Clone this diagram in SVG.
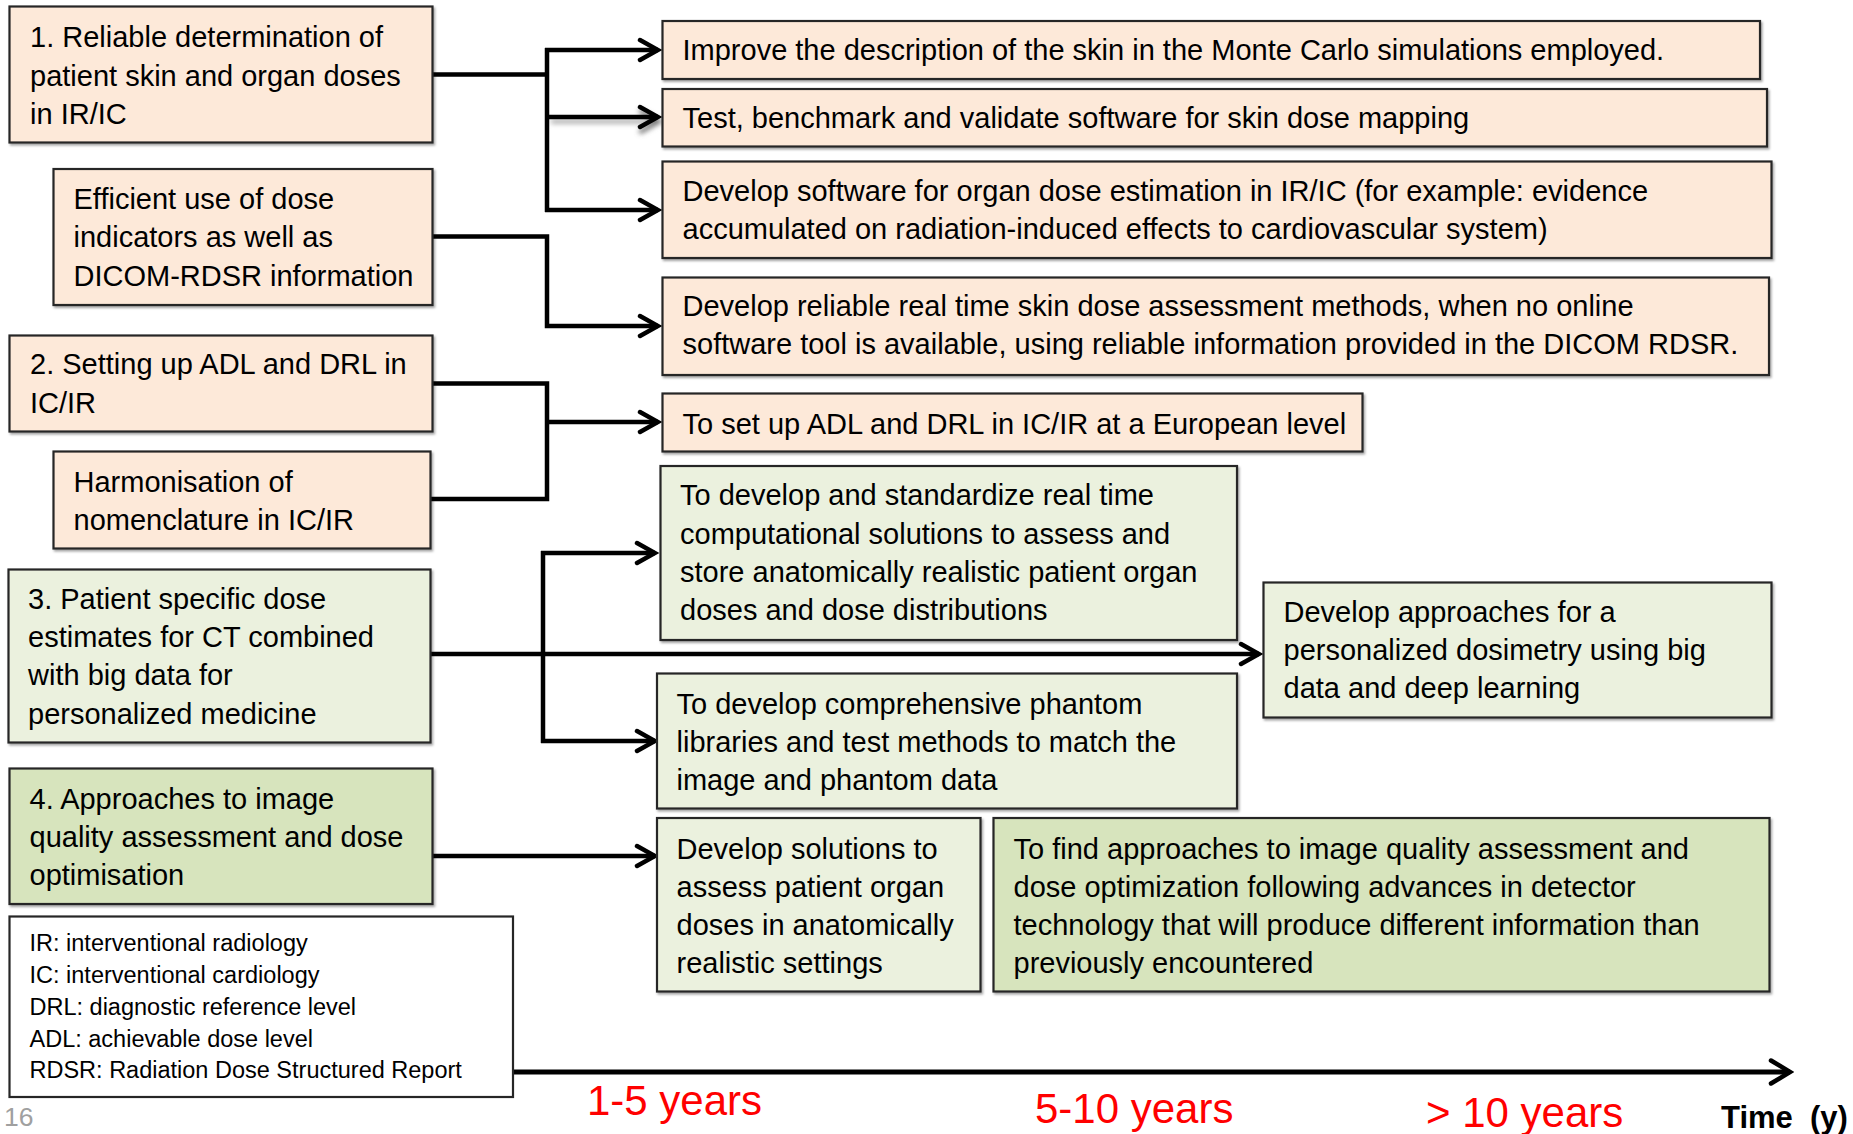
<svg xmlns="http://www.w3.org/2000/svg" width="1853" height="1134" viewBox="0 0 1853 1134">
<defs>
<style>
.box{stroke:#262626;stroke-width:2.2;filter:url(#sh)}
.peach{fill:#FDE9D9}
.lg{fill:#EBF1DE}
.dg{fill:#D7E4BD}
.t{font-family:"Liberation Sans",Arial,sans-serif;font-size:29px;fill:#000}
.leg{font-family:"Liberation Sans",Arial,sans-serif;font-size:23.5px;fill:#000}
.yr{font-family:"Liberation Sans",Arial,sans-serif;font-size:42px;fill:#FF0000}
.c{fill:none;stroke:#000;stroke-width:4.5}
.ca{fill:none;stroke:#000;stroke-width:4.5;marker-end:url(#ah)}
</style>
<filter id="sh" x="-5%" y="-5%" width="110%" height="115%">
<feDropShadow dx="1.5" dy="2" stdDeviation="1.2" flood-color="#000" flood-opacity="0.35"/>
</filter>
<filter id="blur" filterUnits="userSpaceOnUse" x="530" y="100" width="150" height="40">
<feGaussianBlur stdDeviation="2.5"/>
</filter>
<marker id="ah" markerUnits="userSpaceOnUse" viewBox="-24 -14 28 28" refX="0" refY="0" markerWidth="28" markerHeight="28" orient="auto">
<path d="M-18,-10 L0,0 L-18,10" fill="none" stroke="#000" stroke-width="4.5" stroke-linecap="round" stroke-linejoin="miter"/>
</marker>
<marker id="ahS" markerUnits="userSpaceOnUse" viewBox="-24 -14 28 28" refX="0" refY="0" markerWidth="28" markerHeight="28" orient="auto">
<path d="M-18,-10 L0,0 L-18,10" fill="none" stroke="#777" stroke-width="4.5" stroke-linecap="round"/>
</marker>
<marker id="ahT" markerUnits="userSpaceOnUse" viewBox="-26 -16 30 32" refX="0" refY="0" markerWidth="30" markerHeight="32" orient="auto">
<path d="M-19,-11.5 L0,0 L-19,11.5" fill="none" stroke="#000" stroke-width="4.5" stroke-linecap="round" stroke-linejoin="miter"/>
</marker>
</defs>

<g id="connectors">
<path d="M551,121.5 H659" fill="none" stroke="#777" stroke-width="4.5" stroke-opacity="0.6" marker-end="url(#ahS)" filter="url(#blur)"/>
<path class="c" d="M433,74.5 H547"/>
<path class="c" d="M547,48 V212"/>
<path class="ca" d="M545,50 H658"/>
<path class="ca" d="M549,117 H658"/>
<path class="ca" d="M545,210 H658"/>
<path class="ca" d="M433,236.5 H547 V326 H658"/>
<path class="c" d="M432,383.5 H547 V499 H430"/>
<path class="ca" d="M547,422 H658"/>
<path class="ca" d="M430,654 H1259"/>
<path class="c" d="M543,551 V743"/>
<path class="ca" d="M541,553 H655"/>
<path class="ca" d="M541,741 H655"/>
<path class="ca" d="M433,856 H655"/>
<path d="M513,1072 H1790" fill="none" stroke="#000" stroke-width="5" marker-end="url(#ahT)"/>
</g>

<g id="n1">
<rect class="box peach" x="9.5" y="6.5" width="423" height="136"/>
<text class="t" x="30" y="47">1. Reliable determination of</text>
<text class="t" x="30" y="85.5">patient skin and organ doses</text>
<text class="t" x="30" y="124">in IR/IC</text>
</g>
<g id="n1b">
<rect class="box peach" x="53.5" y="169" width="379" height="136"/>
<text class="t" x="73.5" y="208.5">Efficient use of dose</text>
<text class="t" x="73.5" y="247">indicators as well as</text>
<text class="t" x="73.5" y="285.5">DICOM-RDSR information</text>
</g>
<g id="n2">
<rect class="box peach" x="9.5" y="335.5" width="423" height="96"/>
<text class="t" x="30" y="373.5">2. Setting up ADL and DRL in</text>
<text class="t" x="30" y="412.5">IC/IR</text>
</g>
<g id="n2b">
<rect class="box peach" x="53.5" y="451.5" width="377" height="97"/>
<text class="t" x="73.5" y="491.5">Harmonisation of</text>
<text class="t" x="73.5" y="529.5">nomenclature in IC/IR</text>
</g>
<g id="n3">
<rect class="box lg" x="8.5" y="569.5" width="422" height="173"/>
<text class="t" x="28" y="608.5">3. Patient specific dose</text>
<text class="t" x="28" y="647">estimates for CT combined</text>
<text class="t" x="28" y="685">with big data for</text>
<text class="t" x="28" y="723.5">personalized medicine</text>
</g>
<g id="n4">
<rect class="box dg" x="9.5" y="768.5" width="423" height="135.5"/>
<text class="t" x="29.5" y="808.5">4. Approaches to image</text>
<text class="t" x="29.5" y="847">quality assessment and dose</text>
<text class="t" x="29.5" y="885">optimisation</text>
</g>
<g id="legend">
<rect x="9.5" y="916.5" width="503.5" height="180.5" fill="#fff" stroke="#262626" stroke-width="2.2"/>
<text class="leg" x="29.5" y="951">IR: interventional radiology</text>
<text class="leg" x="29.5" y="983">IC: interventional cardiology</text>
<text class="leg" x="29.5" y="1014.5">DRL: diagnostic reference level</text>
<text class="leg" x="29.5" y="1046.5">ADL: achievable dose level</text>
<text class="leg" x="29.5" y="1078">RDSR: Radiation Dose Structured Report</text>
</g>

<g id="r1">
<rect class="box peach" x="662.5" y="21" width="1097.5" height="58"/>
<text class="t" x="682.5" y="60">Improve the description of the skin in the Monte Carlo simulations employed.</text>
</g>
<g id="r2">
<rect class="box peach" x="662.5" y="89" width="1104.5" height="57.5"/>
<text class="t" x="682.5" y="127.5">Test, benchmark and validate software for skin dose mapping</text>
</g>
<g id="r3">
<rect class="box peach" x="662.5" y="161.5" width="1109" height="96.5"/>
<text class="t" x="682.5" y="200.5">Develop software for organ dose estimation in IR/IC (for example: evidence</text>
<text class="t" x="682.5" y="238.5">accumulated on radiation-induced effects to cardiovascular system)</text>
</g>
<g id="r4">
<rect class="box peach" x="662.5" y="277.5" width="1106.5" height="97.5"/>
<text class="t" x="682.5" y="315.5">Develop reliable real time skin dose assessment methods, when no online</text>
<text class="t" x="682.5" y="353.5">software tool is available, using reliable information provided in the DICOM RDSR.</text>
</g>
<g id="r5">
<rect class="box peach" x="662.5" y="393.5" width="700" height="58"/>
<text class="t" x="682.5" y="433.5">To set up ADL and DRL in IC/IR at a European level</text>
</g>
<g id="r6">
<rect class="box lg" x="660.5" y="466" width="576.5" height="174"/>
<text class="t" x="680" y="505">To develop and standardize real time</text>
<text class="t" x="680" y="543.5">computational solutions to assess and</text>
<text class="t" x="680" y="582">store anatomically realistic patient organ</text>
<text class="t" x="680" y="620">doses and dose distributions</text>
</g>
<g id="r7">
<rect class="box lg" x="1263.5" y="582.5" width="508" height="135"/>
<text class="t" x="1283.5" y="622">Develop approaches for a</text>
<text class="t" x="1283.5" y="660">personalized dosimetry using big</text>
<text class="t" x="1283.5" y="698">data and deep learning</text>
</g>
<g id="r8">
<rect class="box lg" x="657" y="673.5" width="580" height="135"/>
<text class="t" x="676.5" y="713.5">To develop comprehensive phantom</text>
<text class="t" x="676.5" y="752">libraries and test methods to match the</text>
<text class="t" x="676.5" y="789.5">image and phantom data</text>
</g>
<g id="r9">
<rect class="box lg" x="657" y="818" width="323.5" height="173.5"/>
<text class="t" x="676.5" y="858.5">Develop solutions to</text>
<text class="t" x="676.5" y="896.5">assess patient organ</text>
<text class="t" x="676.5" y="934.5">doses in anatomically</text>
<text class="t" x="676.5" y="972.5">realistic settings</text>
</g>
<g id="r10">
<rect class="box dg" x="993.5" y="818" width="776" height="173.5"/>
<text class="t" x="1013.5" y="858.5">To find approaches to image quality assessment and</text>
<text class="t" x="1013.5" y="896.5">dose optimization following advances in detector</text>
<text class="t" x="1013.5" y="934.5">technology that will produce different information than</text>
<text class="t" x="1013.5" y="972.5">previously encountered</text>
</g>

<g id="timeline-labels">
<text class="yr" x="587" y="1115">1-5 years</text>
<text class="yr" x="1035" y="1123">5-10 years</text>
<text class="yr" x="1426" y="1127">&gt; 10 years</text>
<text x="1721" y="1128" font-family="'Liberation Sans',Arial,sans-serif" font-size="31" font-weight="bold" fill="#000" xml:space="preserve">Time  (y)</text>
<text x="4" y="1126" font-family="'Liberation Sans',Arial,sans-serif" font-size="26.5" fill="#A0A0A0">16</text>
</g>
</svg>
